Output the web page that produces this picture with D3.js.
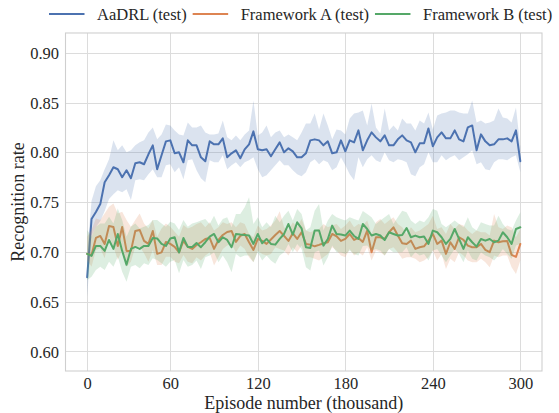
<!DOCTYPE html>
<html>
<head>
<meta charset="utf-8">
<script src="https://cdn.jsdelivr.net/npm/d3@7"></script>
<style>
  body { margin: 0; background: #fff; }
  svg { display: block; }
</style>
</head>
<body>
<svg id="chart" width="559" height="413"></svg>
<script>
// Evaluation checkpoints (100 evaluations over 300k episodes)
const checkpoints = d3.range(100);
const checkpointTicks = [0, 19, 39, 59, 79, 99];
const episodeLabels = ["0", "60", "120", "180", "240", "300"];
const rateTicks = [0.60, 0.65, 0.70, 0.75, 0.80, 0.85, 0.90];

// AaDRL (test): mean recognition rate and confidence band
const aadrlMean = [
  0.6745, 0.733, 0.740, 0.748, 0.770, 0.777, 0.785, 0.783, 0.775, 0.782,
  0.774, 0.789, 0.790, 0.788, 0.798, 0.807, 0.783, 0.797, 0.811, 0.812,
  0.799, 0.800, 0.790, 0.812, 0.807, 0.807, 0.795, 0.791, 0.811, 0.808,
  0.808, 0.814, 0.795, 0.799, 0.802, 0.794, 0.803, 0.808, 0.821, 0.803,
  0.802, 0.803, 0.796, 0.803, 0.810, 0.800, 0.804, 0.801, 0.795, 0.795,
  0.799, 0.812, 0.813, 0.812, 0.807, 0.811, 0.799, 0.800, 0.812, 0.801,
  0.812, 0.810, 0.822, 0.802, 0.812, 0.820, 0.815, 0.811, 0.817, 0.807,
  0.807, 0.813, 0.817, 0.812, 0.810, 0.800, 0.809, 0.809, 0.824, 0.806,
  0.815, 0.820, 0.814, 0.814, 0.822, 0.813, 0.811, 0.825, 0.827, 0.802,
  0.818, 0.811, 0.807, 0.808, 0.813, 0.813, 0.814, 0.811, 0.822, 0.791
];
const aadrlUpper = [
  0.700, 0.751, 0.766, 0.772, 0.783, 0.793, 0.812, 0.802, 0.807, 0.800,
  0.802, 0.807, 0.810, 0.812, 0.820, 0.825, 0.813, 0.818, 0.828, 0.827,
  0.822, 0.818, 0.817, 0.830, 0.825, 0.825, 0.827, 0.820, 0.818, 0.818,
  0.819, 0.832, 0.815, 0.812, 0.817, 0.812, 0.818, 0.822, 0.852, 0.817,
  0.820, 0.827, 0.815, 0.820, 0.822, 0.815, 0.818, 0.815, 0.812, 0.820,
  0.829, 0.829, 0.839, 0.823, 0.839, 0.827, 0.813, 0.823, 0.822, 0.818,
  0.834, 0.839, 0.840, 0.842, 0.827, 0.849, 0.825, 0.819, 0.844, 0.822,
  0.827, 0.822, 0.834, 0.829, 0.829, 0.822, 0.832, 0.829, 0.840, 0.823,
  0.837, 0.839, 0.840, 0.842, 0.842, 0.840, 0.839, 0.839, 0.852, 0.830,
  0.832, 0.829, 0.830, 0.832, 0.844, 0.835, 0.834, 0.830, 0.845, 0.805
];
const aadrlLower = [
  0.655, 0.716, 0.725, 0.731, 0.741, 0.753, 0.758, 0.762, 0.760, 0.763,
  0.752, 0.772, 0.773, 0.772, 0.778, 0.783, 0.775, 0.775, 0.787, 0.788,
  0.780, 0.785, 0.773, 0.792, 0.793, 0.782, 0.774, 0.770, 0.792, 0.790,
  0.790, 0.797, 0.783, 0.787, 0.790, 0.785, 0.790, 0.792, 0.795, 0.783,
  0.775, 0.777, 0.782, 0.787, 0.792, 0.787, 0.787, 0.782, 0.778, 0.776,
  0.780, 0.790, 0.793, 0.788, 0.792, 0.790, 0.782, 0.785, 0.795, 0.787,
  0.778, 0.772, 0.795, 0.785, 0.793, 0.797, 0.792, 0.790, 0.800, 0.792,
  0.790, 0.793, 0.792, 0.790, 0.778, 0.776, 0.785, 0.788, 0.800, 0.790,
  0.790, 0.797, 0.792, 0.795, 0.797, 0.792, 0.795, 0.798, 0.802, 0.788,
  0.790, 0.783, 0.782, 0.790, 0.793, 0.793, 0.792, 0.795, 0.797, 0.780
];

// Framework A (test)
const frameworkAMean = [
  0.698, 0.697, 0.714, 0.716, 0.708, 0.726, 0.725, 0.706, 0.725, 0.701,
  0.701, 0.721, 0.722, 0.711, 0.708, 0.721, 0.698, 0.6995, 0.710, 0.708,
  0.705, 0.6995, 0.711, 0.705, 0.703, 0.707, 0.7097, 0.713, 0.714, 0.703,
  0.712, 0.717, 0.720, 0.721, 0.710, 0.716, 0.718, 0.7097, 0.702, 0.713,
  0.711, 0.708, 0.7125, 0.717, 0.721, 0.716, 0.711, 0.7187, 0.713, 0.7197,
  0.708, 0.7073, 0.7056, 0.707, 0.7087, 0.7097, 0.718, 0.7157, 0.711, 0.713,
  0.718, 0.712, 0.714, 0.710, 0.7214, 0.6997, 0.7147, 0.7147, 0.713, 0.7197,
  0.7247, 0.7164, 0.7087, 0.708, 0.7113, 0.703, 0.7047, 0.7056, 0.7113, 0.718,
  0.708, 0.7113, 0.698, 0.7097, 0.703, 0.7147, 0.712, 0.7063, 0.7047, 0.7047,
  0.708, 0.702, 0.6997, 0.7113, 0.7097, 0.7107, 0.711, 0.697, 0.695, 0.708
];
const frameworkAUpper = [
  0.7153, 0.722, 0.7336, 0.732, 0.7386, 0.7453, 0.7486, 0.7386, 0.7403, 0.732,
  0.7253, 0.732, 0.7386, 0.7286, 0.7236, 0.732, 0.7153, 0.7236, 0.7286, 0.7253,
  0.7203, 0.7153, 0.727, 0.7236, 0.7253, 0.728, 0.7297, 0.7247, 0.7297, 0.7214,
  0.7247, 0.7297, 0.728, 0.7297, 0.7247, 0.7297, 0.728, 0.718, 0.7147, 0.7264,
  0.7214, 0.723, 0.7264, 0.7314, 0.7408, 0.7247, 0.7214, 0.7297, 0.7247, 0.7331,
  0.7214, 0.7197, 0.7214, 0.723, 0.728, 0.7247, 0.7264, 0.728, 0.723, 0.7264,
  0.7314, 0.7247, 0.728, 0.7264, 0.7314, 0.718, 0.7297, 0.7331, 0.728, 0.7314,
  0.7347, 0.728, 0.7247, 0.718, 0.7247, 0.7197, 0.7214, 0.7247, 0.728, 0.7364,
  0.723, 0.7247, 0.718, 0.728, 0.723, 0.728, 0.7264, 0.7214, 0.718, 0.7214,
  0.7197, 0.7197, 0.7164, 0.7381, 0.7247, 0.723, 0.7264, 0.7247, 0.7147, 0.723
];
const frameworkALower = [
  0.6919, 0.6852, 0.7019, 0.7036, 0.6936, 0.7153, 0.7052, 0.6919, 0.7019, 0.6852,
  0.6902, 0.7052, 0.7052, 0.6986, 0.6902, 0.7019, 0.6869, 0.6869, 0.6952, 0.6952,
  0.6902, 0.6885, 0.6969, 0.6902, 0.6885, 0.6946, 0.6913, 0.6963, 0.6997, 0.6863,
  0.6946, 0.703, 0.7063, 0.708, 0.6997, 0.7063, 0.703, 0.6946, 0.6896, 0.7013,
  0.698, 0.6963, 0.698, 0.7047, 0.703, 0.7013, 0.6963, 0.7047, 0.6997, 0.7063,
  0.6946, 0.6946, 0.693, 0.6913, 0.6946, 0.698, 0.7047, 0.7013, 0.6963, 0.6946,
  0.703, 0.6963, 0.6997, 0.6963, 0.7047, 0.6913, 0.7013, 0.6997, 0.6963, 0.703,
  0.7047, 0.6997, 0.693, 0.6946, 0.6946, 0.693, 0.6896, 0.6913, 0.6946, 0.7013,
  0.6913, 0.698, 0.6829, 0.693, 0.6896, 0.6997, 0.6963, 0.6913, 0.6896, 0.6896,
  0.693, 0.6896, 0.6846, 0.6963, 0.6946, 0.6963, 0.6963, 0.6846, 0.6779, 0.6913
];

// Framework B (test)
const frameworkBMean = [
  0.698, 0.696, 0.706, 0.706, 0.701, 0.712, 0.703, 0.718, 0.701, 0.687,
  0.703, 0.705, 0.703, 0.706, 0.706, 0.714, 0.7135, 0.708, 0.706, 0.7135,
  0.7147, 0.6995, 0.714, 0.705, 0.705, 0.709, 0.7047, 0.7097, 0.7154, 0.718,
  0.7097, 0.7147, 0.712, 0.7047, 0.718, 0.7174, 0.717, 0.7164, 0.708, 0.718,
  0.7087, 0.713, 0.708, 0.7073, 0.713, 0.718, 0.728, 0.7174, 0.7297, 0.7237,
  0.7047, 0.704, 0.7214, 0.7214, 0.7063, 0.713, 0.7264, 0.718, 0.7174, 0.7164,
  0.7214, 0.716, 0.713, 0.728, 0.723, 0.7164, 0.718, 0.7164, 0.712, 0.7197,
  0.718, 0.7164, 0.717, 0.724, 0.7147, 0.7164, 0.7147, 0.7154, 0.708, 0.7214,
  0.7197, 0.7147, 0.708, 0.713, 0.723, 0.713, 0.703, 0.7147, 0.7097, 0.7053,
  0.713, 0.7113, 0.713, 0.7097, 0.7113, 0.7197, 0.7147, 0.708, 0.723, 0.7247
];
const frameworkBUpper = [
  0.722, 0.7153, 0.7253, 0.7286, 0.7286, 0.7353, 0.7286, 0.7436, 0.732, 0.7153,
  0.7253, 0.7286, 0.7236, 0.7253, 0.727, 0.732, 0.732, 0.7286, 0.7253, 0.7303,
  0.7286, 0.722, 0.732, 0.7253, 0.7286, 0.7297, 0.7314, 0.7331, 0.728, 0.7364,
  0.7264, 0.7331, 0.7347, 0.7247, 0.7381, 0.7381, 0.7448, 0.7548, 0.728, 0.7347,
  0.7247, 0.7297, 0.7247, 0.7364, 0.7297, 0.7364, 0.7414, 0.7314, 0.7431, 0.7381,
  0.7214, 0.7247, 0.7414, 0.748, 0.7214, 0.7314, 0.7381, 0.7347, 0.7331, 0.7314,
  0.7347, 0.7331, 0.7314, 0.741, 0.7381, 0.7347, 0.728, 0.7314, 0.7347, 0.7381,
  0.728, 0.7347, 0.7414, 0.7397, 0.7314, 0.728, 0.7314, 0.7297, 0.7347, 0.7431,
  0.7414, 0.728, 0.7247, 0.728, 0.7314, 0.728, 0.7247, 0.7347, 0.7247, 0.7214,
  0.7297, 0.728, 0.7264, 0.7264, 0.7364, 0.728, 0.723, 0.7214, 0.7314, 0.7397
];
const frameworkBLower = [
  0.6718, 0.6751, 0.6818, 0.6852, 0.6818, 0.6902, 0.6852, 0.6952, 0.6801, 0.6701,
  0.6852, 0.6869, 0.6835, 0.6885, 0.6869, 0.6936, 0.6919, 0.6885, 0.6852, 0.6902,
  0.6919, 0.6785, 0.6919, 0.6852, 0.6869, 0.6913, 0.6829, 0.6946, 0.6963, 0.6997,
  0.6896, 0.6963, 0.6896, 0.6796, 0.698, 0.6946, 0.6963, 0.6963, 0.6896, 0.6997,
  0.6913, 0.6963, 0.6913, 0.688, 0.6963, 0.6997, 0.708, 0.6997, 0.708, 0.703,
  0.6846, 0.6813, 0.6997, 0.7013, 0.6863, 0.6946, 0.7063, 0.6997, 0.6997, 0.698,
  0.7013, 0.698, 0.6963, 0.706, 0.7063, 0.7013, 0.703, 0.7013, 0.6963, 0.703,
  0.6997, 0.6997, 0.6997, 0.7047, 0.6946, 0.6997, 0.6963, 0.698, 0.6913, 0.7013,
  0.703, 0.6963, 0.6896, 0.6963, 0.703, 0.698, 0.6896, 0.7013, 0.693, 0.6913,
  0.6997, 0.6963, 0.6946, 0.6913, 0.6963, 0.703, 0.698, 0.693, 0.7063, 0.708
];

const series = [
  { name: "AaDRL (test)",       color: "#4c72b0", mean: aadrlMean,      lo: aadrlLower,      hi: aadrlUpper },
  { name: "Framework A (test)", color: "#dd8452", mean: frameworkAMean, lo: frameworkALower, hi: frameworkAUpper },
  { name: "Framework B (test)", color: "#55a868", mean: frameworkBMean, lo: frameworkBLower, hi: frameworkBUpper }
];

const FONT = '"Liberation Serif", "Times New Roman", Times, serif';
const TEXT_COLOR = "#262626";

const svg = d3.select("#chart");
const plot = { left: 65.5, right: 542, top: 33, bottom: 371 };

const x = d3.scaleLinear().domain([-4.95, 103.95]).range([plot.left, plot.right]);
const y = d3.scaleLinear().domain([0.5804, 0.9198]).range([plot.bottom, plot.top]);

const gridColor = "#dcdcdc";

// Grid lines
const grid = svg.append("g");
grid.selectAll("line.v").data(checkpointTicks).join("line")
  .attr("x1", d => Math.round(x(d)) + 0.5).attr("x2", d => Math.round(x(d)) + 0.5)
  .attr("y1", plot.top).attr("y2", plot.bottom)
  .attr("stroke", gridColor).attr("stroke-width", 1);
grid.selectAll("line.h").data(rateTicks).join("line")
  .attr("y1", d => Math.round(y(d)) + 0.5).attr("y2", d => Math.round(y(d)) + 0.5)
  .attr("x1", plot.left).attr("x2", plot.right)
  .attr("stroke", gridColor).attr("stroke-width", 1);

// Bands and mean lines
const area = d3.area()
  .x(d => x(d.i)).y0(d => y(d.lo)).y1(d => y(d.hi));
const line = d3.line()
  .x(d => x(d.i)).y(d => y(d.v));

series.forEach(s => {
  const pts = checkpoints.map(i => ({ i, v: s.mean[i], lo: s.lo[i], hi: s.hi[i] }));
  svg.append("path").datum(pts)
    .attr("d", area)
    .attr("fill", s.color).attr("fill-opacity", 0.2).attr("stroke", "none");
  svg.append("path").datum(pts)
    .attr("d", line)
    .attr("fill", "none").attr("stroke", s.color)
    .attr("stroke-width", 2).attr("stroke-linejoin", "round").attr("stroke-linecap", "round");
});

// Frame
svg.append("rect")
  .attr("x", plot.left).attr("y", plot.top)
  .attr("width", plot.right - plot.left).attr("height", plot.bottom - plot.top)
  .attr("fill", "none").attr("stroke", "#cfcfcf").attr("stroke-width", 1.1);

// X axis
const xAxis = d3.axisBottom(x)
  .tickValues(checkpointTicks)
  .tickFormat((d, k) => episodeLabels[k])
  .tickSize(0).tickPadding(0);
const gx = svg.append("g").attr("transform", `translate(0,${plot.bottom})`).call(xAxis)
  .attr("font-family", FONT);
gx.select(".domain").remove();
gx.selectAll("text")
  .attr("y", 17.6).attr("dy", null)
  .style("font-family", FONT)
  .style("font-size", "16.5px").attr("fill", TEXT_COLOR);

// Y axis
const yAxis = d3.axisLeft(y)
  .tickValues(rateTicks)
  .tickFormat(d3.format(".2f"))
  .tickSize(0).tickPadding(6.5);
const gy = svg.append("g").attr("transform", `translate(${plot.left},0)`).call(yAxis)
  .attr("font-family", FONT);
gy.select(".domain").remove();
gy.selectAll("text")
  .attr("dy", "0.34em")
  .style("font-family", FONT)
  .style("font-size", "16.5px").attr("fill", TEXT_COLOR);

// Axis titles
svg.append("text")
  .attr("x", (plot.left + plot.right) / 2).attr("y", 408.5)
  .attr("text-anchor", "middle")
  .style("font-family", FONT).style("font-size", "18px").attr("fill", TEXT_COLOR)
  .text("Episode number (thousand)");
svg.append("text")
  .attr("transform", `translate(24,${(plot.top + plot.bottom) / 2}) rotate(-90)`)
  .attr("text-anchor", "middle")
  .style("font-family", FONT).style("font-size", "18px").attr("fill", TEXT_COLOR)
  .text("Recognition rate");

// Legend
const legend = svg.append("g");
let lx = 49;
const ly = 14;
series.forEach(s => {
  legend.append("line")
    .attr("x1", lx).attr("x2", lx + 35.5).attr("y1", ly).attr("y2", ly)
    .attr("stroke", s.color).attr("stroke-width", 2);
  const t = legend.append("text")
    .attr("x", lx + 48).attr("y", ly + 5.6)
    .style("font-family", FONT).style("font-size", "16.5px").attr("fill", TEXT_COLOR)
    .text(s.name);
  lx = lx + 48 + t.node().getComputedTextLength() + 6;
});
</script>
</body>
</html>
